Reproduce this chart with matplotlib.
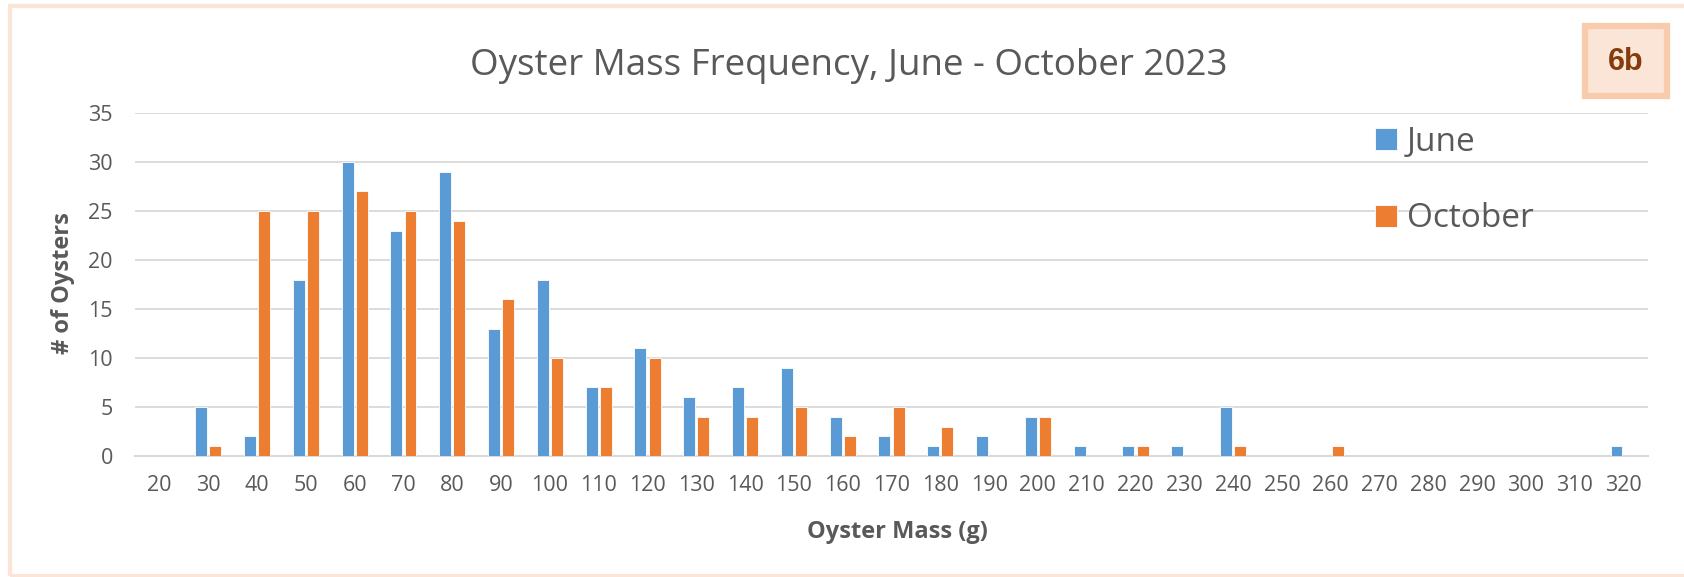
import matplotlib.pyplot as plt
import numpy as np
from matplotlib.patches import Rectangle

plt.rcParams['font.family'] = ['Open Sans', 'DejaVu Sans']

# oyster mass bins (g)
masses = [20, 30, 40, 50, 60, 70, 80, 90, 100, 110, 120, 130, 140, 150, 160,
          170, 180, 190, 200, 210, 220, 230, 240, 250, 260, 270, 280, 290, 300,
          310, 320]
june = [0, 5, 2, 18, 30, 23, 29, 13, 18, 7, 11, 6, 7, 9, 4,
        2, 1, 2, 4, 1, 1, 1, 5, 0, 0, 0, 0, 0, 0,
        0, 1]
october = [0, 1, 25, 25, 27, 25, 24, 16, 10, 7, 10, 4, 4, 5, 2,
           5, 3, 0, 4, 0, 1, 0, 1, 0, 1, 0, 0, 0, 0,
           0, 0]

W, H = 1684, 577
fig = plt.figure(figsize=(W / 100, H / 100), dpi=100)
ax = fig.add_axes([135 / W, 1 - 456 / H, (1648 - 135) / W, (456 - 113) / H])

gray = '#595959'
x = np.arange(len(masses))
bw = 0.245
ax.bar(x - 0.145, june, bw, color='#5b9bd5', edgecolor='white', linewidth=0.6,
       label='June', zorder=3)
ax.bar(x + 0.145, october, bw, color='#ed7d31', edgecolor='white', linewidth=0.6,
       label='October', zorder=3)

ax.set_xlim(-0.5, len(masses) - 0.5)
ax.set_ylim(0, 35)
ax.set_yticks(range(0, 36, 5))
ax.set_xticks(x)
ax.set_xticklabels([str(m) for m in masses])
ax.tick_params(axis='both', length=0, labelsize=15.5, colors=gray)
ax.tick_params(axis='x', pad=14)
ax.tick_params(axis='y', pad=16)
ax.grid(axis='y', color='#d9d9d9', linewidth=1.3, zorder=0)
for s in ['top', 'right', 'left']:
    ax.spines[s].set_visible(False)
ax.spines['bottom'].set_color('#d9d9d9')
ax.spines['bottom'].set_linewidth(1.5)

fig.text(897 / W, 1 - 532 / H, 'Oyster Mass (g)', fontsize=17,
         fontweight='bold', color=gray, ha='center', va='center')
fig.text(63 / W, 1 - 283 / H, '# of Oysters', rotation=90, fontsize=17,
         fontweight='bold', color=gray, ha='center', va='center')
fig.text(849 / W, 1 - 75 / H, 'Oyster Mass Frequency, June - October 2023',
         fontsize=26.5, color=gray, ha='center', va='baseline')

leg = ax.legend(loc='upper left', bbox_to_anchor=(1345 / W, 1 - 96 / H),
                bbox_transform=fig.transFigure, frameon=False, fontsize=24,
                handlelength=0.65, handleheight=0.65, handletextpad=0.3,
                labelspacing=1.3)
for t in leg.get_texts():
    t.set_color(gray)

# outer frame
fig.patches.append(Rectangle((10 / W, 1 - 576 / H), 1.0, (576 - 6) / H,
                             transform=fig.transFigure, fill=False,
                             edgecolor='#fbe5d6', linewidth=3))
# 6b badge
fig.patches.append(Rectangle((1585 / W, 1 - 96 / H), 82 / W, 70 / H,
                             transform=fig.transFigure, facecolor='#fbe5d6',
                             edgecolor='#f8cbad', linewidth=4.5))
fig.text(1626 / W, 1 - 62 / H, '6b', fontsize=22, fontweight='bold',
         color='#843c0c', ha='center', va='center',
         family=['Liberation Sans', 'DejaVu Sans'])

fig.savefig('out.png', dpi=100)
